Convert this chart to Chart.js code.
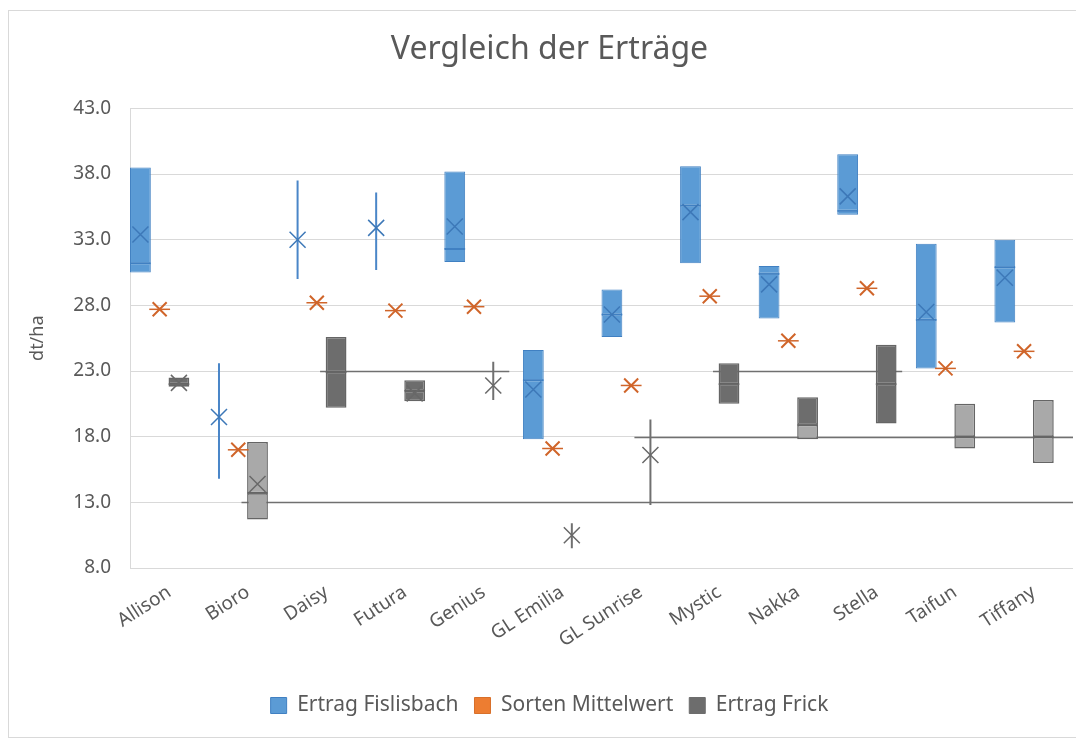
<!DOCTYPE html>
<html>
<head>
<meta charset="utf-8">
<script src="https://cdn.jsdelivr.net/npm/chart.js@4.4.0/dist/chart.umd.min.js"></script>
<style>
  html, body { margin:0; padding:0; background:#fff; }
  #rahmen { position:absolute; left:8px; top:10px; width:1100px; height:728px; border:1px solid #d9d9d9; box-sizing:border-box; }
  #wrap { position:absolute; left:0; top:0; width:1076px; height:742px; }
</style>
</head>
<body>
<div id="rahmen"></div>
<div id="wrap"><canvas id="c"></canvas></div>
<script>
// Sorten
const sorten = ['Allison','Bioro','Daisy','Futura','Genius','GL Emilia','GL Sunrise','Mystic','Nakka','Stella','Taifun','Tiffany'];

// Ertrag Fislisbach (Boxplot)
const fisQ1     = [30.5, null, null, null, 31.3, 17.8, 25.6, 31.2, 27.0, 34.9, 23.2, 26.7];
const fisMedian = [31.2, null, null, null, 32.3, 22.3, 27.3, 35.6, 30.4, 35.2, 26.9, 30.9];
const fisQ3     = [38.5, null, null, null, 38.2, 24.6, 29.2, 38.6, 31.0, 39.5, 32.7, 33.0];
const fisMin    = [null, 14.8, 30.0, 30.7, null, null, null, null, null, null, null, null];
const fisMax    = [null, 23.6, 37.5, 36.6, null, null, null, null, null, null, null, null];
const fisMean   = [33.4, 19.5, 33.0, 33.9, 34.0, 21.6, 27.3, 35.1, 29.6, 36.3, 27.5, 30.1];

// Sorten Mittelwert
const mittelwert = [27.7, 17.0, 28.2, 27.6, 27.9, 17.1, 21.9, 28.7, 25.3, 29.3, 23.2, 24.5];

// Ertrag Frick (Boxplot)
const friQ1     = [21.8, 11.7, 20.2, 20.7, null, null, null, 20.5, 17.8, 19.0, 17.1, 16.0];
const friMedian = [22.0, 13.7, 22.9, 21.5, null, null, null, 22.0, 18.9, 22.0, 18.0, 18.0];
const friQ3     = [22.5, 17.6, 25.6, 22.3, null, null, null, 23.6, 21.0, 25.0, 20.5, 20.8];
const friMin    = [null, null, null, null, 20.8,  9.5, 12.8, null, null, null, null, null];
const friMax    = [null, null, null, null, 23.7, 11.4, 19.3, null, null, null, null, null];
const friMean   = [22.1, 14.4, null, 21.3, 21.9, 10.5, 16.6, null, null, null, null, null];

// Mittelwertlinien von Frick
const linieWert = [23, 23, 18, 13];
const linieVon  = ['Daisy', 'Mystic', 'GL Sunrise', 'Bioro'];
const linieBis  = ['Genius', 'Stella', null, null];

const yTicks = [8, 13, 18, 23, 28, 33, 38, 43];

// Farben
const blau = '#5b9bd5', blauRand = '#4080c2', blauX = '#3d78b8';
const orange = '#ed7d31', orangeX = '#d0652a';
const dunkel = '#6d6d6d', hell = '#a9a9a9', grauRand = '#656565';
const friFarbeOben  = [dunkel, hell, dunkel, dunkel, dunkel, dunkel, dunkel, dunkel, dunkel, dunkel, hell, hell];
const friFarbeUnten = [dunkel, hell, dunkel, dunkel, dunkel, dunkel, dunkel, dunkel, hell, dunkel, hell, hell];

const textFarbe = '#595959';
const schrift = "'Noto Sans', 'Open Sans', sans-serif";

function spanne(a, b) {
  return a.map((v, i) => (v == null || b[i] == null) ? null : [v, b[i]]);
}

const boxOpt = { categoryPercentage: 0.98, barPercentage: 1.08, borderWidth: 1, borderSkipped: false };
const whiskerOpt = { categoryPercentage: 0.98, barPercentage: 1, maxBarThickness: 2, borderWidth: 0 };

function zeichneX(ctx, x, y, r, farbe, lw) {
  ctx.save();
  ctx.strokeStyle = farbe;
  ctx.lineWidth = lw;
  ctx.beginPath();
  ctx.moveTo(x - r, y - r); ctx.lineTo(x + r, y + r);
  ctx.moveTo(x + r, y - r); ctx.lineTo(x - r, y + r);
  ctx.stroke();
  ctx.restore();
}

function zeichneStrich(ctx, el, py, farbe, lw) {
  ctx.save();
  ctx.strokeStyle = farbe; ctx.lineWidth = lw;
  ctx.beginPath(); ctx.moveTo(el.x - el.width / 2, py); ctx.lineTo(el.x + el.width / 2, py); ctx.stroke();
  ctx.restore();
}

const markerPlugin = {
  id: 'marker',
  beforeDatasetsDraw(chart) {
    const ctx = chart.ctx, y = chart.scales.y, area = chart.chartArea;
    const fri = chart.getDatasetMeta(3).data;
    ctx.save();
    ctx.strokeStyle = '#707070';
    ctx.lineWidth = 1.5;
    linieWert.forEach((w, k) => {
      const i0 = sorten.indexOf(linieVon[k]);
      const x0 = fri[i0].x - 16;
      const x1 = linieBis[k] == null ? area.right : fri[sorten.indexOf(linieBis[k])].x + 16;
      const py = Math.round(y.getPixelForValue(w)) + 0.5;
      ctx.beginPath(); ctx.moveTo(x0, py); ctx.lineTo(x1, py); ctx.stroke();
    });
    ctx.restore();
  },
  afterDatasetsDraw(chart) {
    const ctx = chart.ctx, y = chart.scales.y;
    const fis = chart.getDatasetMeta(0).data;
    const mit = chart.getDatasetMeta(2).data;
    const fri = chart.getDatasetMeta(3).data;
    // Median-Striche
    fisMedian.forEach((v, i) => {
      if (v == null || fisQ1[i] == null) return;
      zeichneStrich(ctx, fis[i], y.getPixelForValue(v), blauRand, 1.5);
    });
    friMedian.forEach((v, i) => {
      if (v == null || friQ1[i] == null) return;
      zeichneStrich(ctx, fri[i], y.getPixelForValue(v), grauRand, 1.5);
    });
    // Mittelwert: zusammengefallene Box -> Strich + X
    mittelwert.forEach((v, i) => {
      if (v == null) return;
      const py = y.getPixelForValue(v);
      zeichneStrich(ctx, mit[i], py, orangeX, 1.5);
      zeichneX(ctx, mit[i].x, py, 7, orangeX, 2);
    });
    fisMean.forEach((v, i) => {
      if (v == null) return;
      zeichneX(ctx, fis[i].x, y.getPixelForValue(v), 8, blauX, 1.5);
    });
    friMean.forEach((v, i) => {
      if (v == null) return;
      zeichneX(ctx, fri[i].x, y.getPixelForValue(v), 8, '#686868', 1.5);
    });
  }
};

new Chart(document.getElementById('c'), {
  type: 'bar',
  data: {
    labels: sorten,
    datasets: [
      Object.assign({ label: 'Ertrag Fislisbach', data: spanne(fisMedian, fisQ3), stack: 'fis', backgroundColor: blau, borderColor: blauRand }, boxOpt),
      Object.assign({ label: 'Fislisbach unten', data: spanne(fisQ1, fisMedian), stack: 'fis', backgroundColor: blau, borderColor: blauRand }, boxOpt),
      Object.assign({ label: 'Sorten Mittelwert', data: spanne(mittelwert, mittelwert), stack: 'mit', backgroundColor: orange, borderColor: orange }, boxOpt, { borderWidth: 0 }),
      Object.assign({ label: 'Ertrag Frick', data: spanne(friMedian, friQ3), stack: 'fri', backgroundColor: friFarbeOben, borderColor: grauRand }, boxOpt, { borderWidth: 1.5 }),
      Object.assign({ label: 'Frick unten', data: spanne(friQ1, friMedian), stack: 'fri', backgroundColor: friFarbeUnten, borderColor: grauRand }, boxOpt, { borderWidth: 1.5 }),
      Object.assign({ label: 'leer', data: sorten.map(() => null), stack: 'leer' }, boxOpt),
      Object.assign({ label: 'Fislisbach Whisker', data: spanne(fisMin, fisMax), stack: 'fis', backgroundColor: '#4a86c8' }, whiskerOpt),
      Object.assign({ label: 'Frick Whisker', data: spanne(friMin, friMax), stack: 'fri', backgroundColor: '#707070' }, whiskerOpt)
    ]
  },
  options: {
    responsive: true,
    maintainAspectRatio: false,
    animation: false,
    layout: { padding: { left: 26, right: 3, top: 10, bottom: 16 } },
    plugins: {
      title: {
        display: true,
        text: 'Vergleich der Erträge',
        color: textFarbe,
        font: { family: schrift, size: 32, weight: 'normal' },
        padding: { top: 21, bottom: 39 }
      },
      legend: {
        position: 'bottom',
        onClick: null,
        labels: {
          color: textFarbe,
          font: { family: schrift, size: 21 },
          boxWidth: 16,
          boxHeight: 16,
          padding: 16,
          generateLabels: () => [
            { text: 'Ertrag Fislisbach', fillStyle: blau, strokeStyle: blauRand, lineWidth: 1, datasetIndex: 0, fontColor: textFarbe },
            { text: 'Sorten Mittelwert', fillStyle: orange, strokeStyle: '#d8702a', lineWidth: 1, datasetIndex: 2, fontColor: textFarbe },
            { text: 'Ertrag Frick', fillStyle: dunkel, strokeStyle: dunkel, lineWidth: 1, datasetIndex: 3, fontColor: textFarbe }
          ]
        }
      },
      tooltip: { enabled: false }
    },
    scales: {
      x: {
        grid: { display: false },
        border: { display: false },
        ticks: { color: textFarbe, font: { family: schrift, size: 19 }, minRotation: 33, maxRotation: 33, padding: 5 },
        afterFit: (ax) => { ax.height = 111; }
      },
      y: {
        stacked: false,
        min: 8,
        max: 43,
        afterBuildTicks: (ax) => { ax.ticks = yTicks.map(v => ({ value: v })); },
        grid: { color: '#d9d9d9', drawTicks: false },
        border: { display: true, color: '#d9d9d9' },
        ticks: { color: textFarbe, font: { family: schrift, size: 19 }, padding: 19, callback: (v) => Number(v).toFixed(1) },
        title: { display: true, text: 'dt/ha', color: textFarbe, font: { family: schrift, size: 18 }, padding: { top: 1, bottom: 0 } },
        afterFit: (ax) => { ax.width = 104; }
      }
    }
  },
  plugins: [markerPlugin]
});
</script>
</body>
</html>
